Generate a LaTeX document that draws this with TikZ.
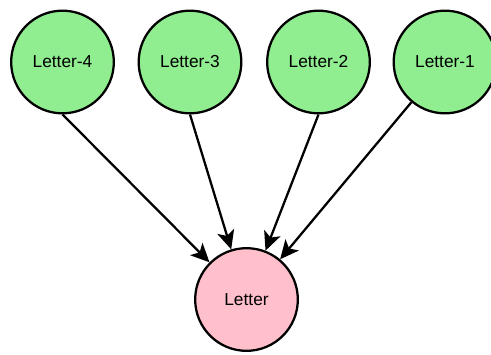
\documentclass[tikz,border=0pt]{standalone}
\usepackage{fontspec}
\setmainfont{Liberation Sans}
\usetikzlibrary{arrows.meta}
\definecolor{nodegreen}{HTML}{90EE90}
\definecolor{nodepink}{HTML}{FFC0CB}
\begin{document}
\begin{tikzpicture}[x=0.75pt,y=-0.75pt,
  bubble/.style={circle,draw=black,line width=1.7pt,minimum size=77pt,inner sep=0pt,font=\fontsize{13}{15}\selectfont},
  link/.style={line width=1.7pt,-{Stealth[length=14pt,width=13pt,inset=3.5pt]}}]
\path[use as bounding box] (0,0) rectangle (491,354);
\clip (0,0) rectangle (491,354);
\node[bubble,fill=nodegreen] (l4) at (62.5,62) {Letter-4};
\node[bubble,fill=nodegreen] (l3) at (190,62) {Letter-3};
\node[bubble,fill=nodegreen] (l2) at (318.5,62) {Letter-2};
\node[bubble,fill=nodegreen] (l1) at (445,62) {Letter-1};
\node[bubble,fill=nodepink] (l) at (246.5,299.5) {Letter};
\draw[link] (l4.south) -- (l);
\draw[link] (l3.south) -- (l);
\draw[link] (l2.south) -- (l);
\draw[link] (l1) -- (l);
\end{tikzpicture}
\end{document}
